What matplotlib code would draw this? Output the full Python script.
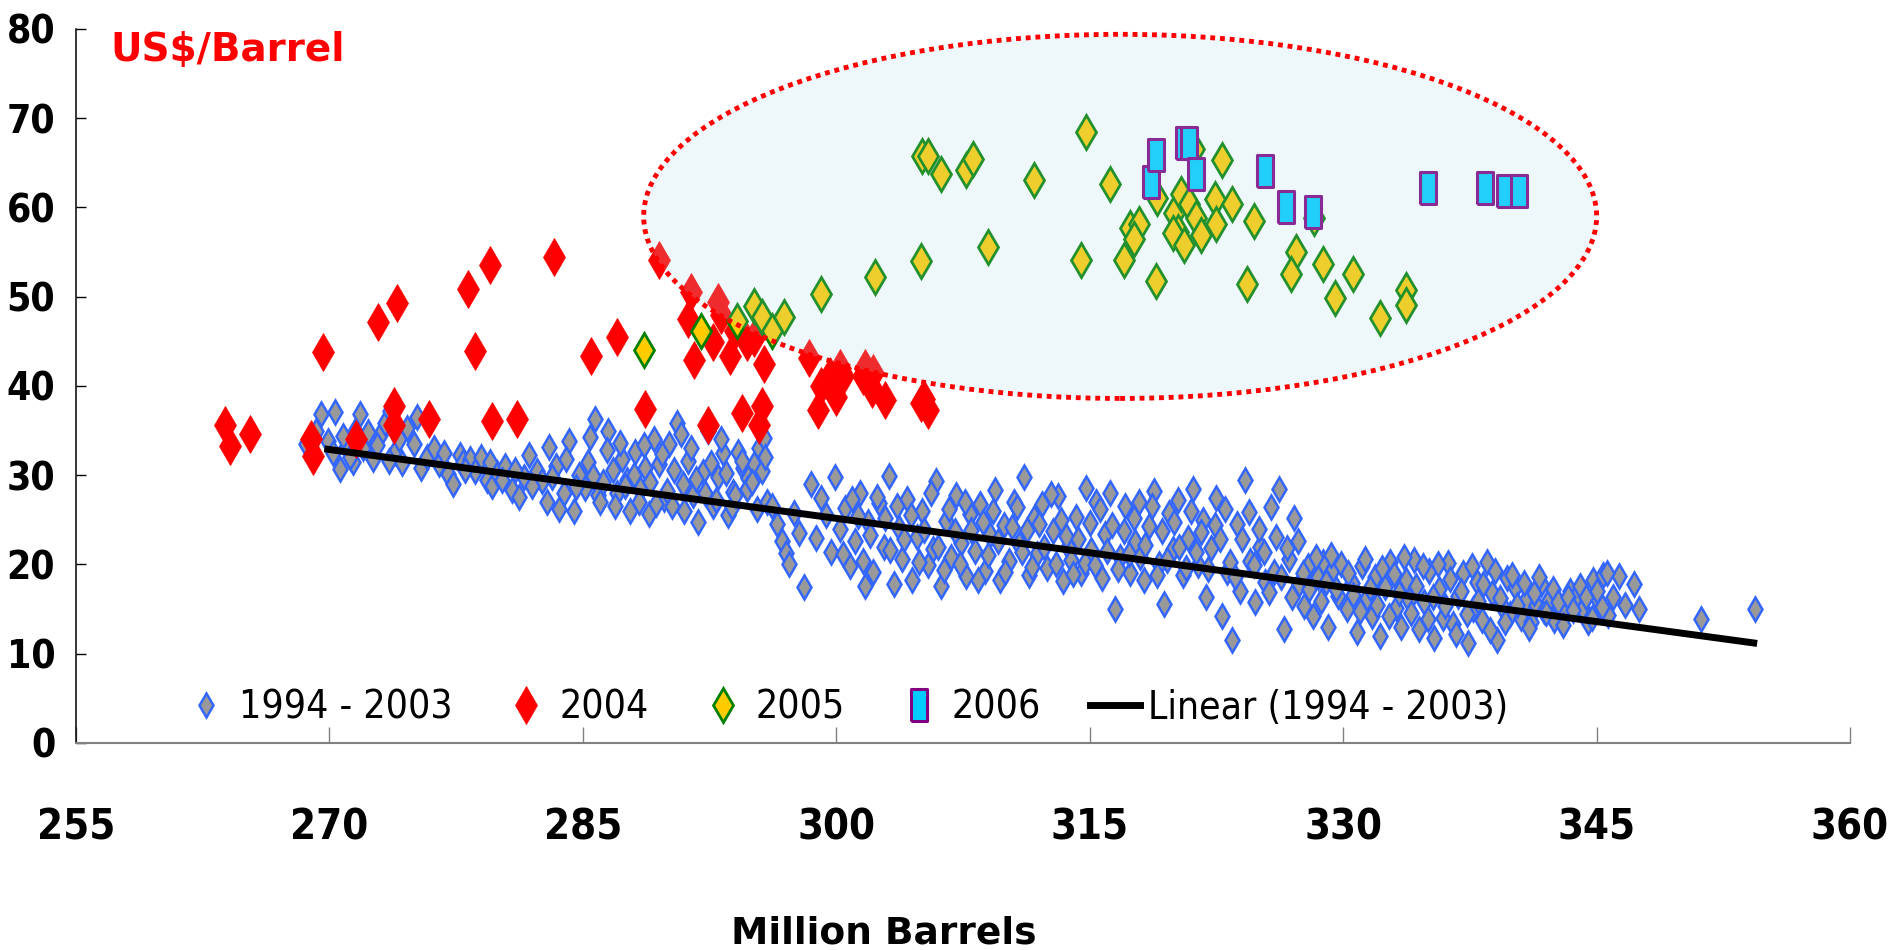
import matplotlib.pyplot as plt
from matplotlib.patches import Ellipse

# weekly stocks (million barrels) vs price (US$/barrel)
blue_points = [
    (268.6, 33.5), (269.5, 36.8), (269.9, 33.8), (270.3, 37.1), (270.6, 30.7), (270.2, 32.5),
    (271.0, 33.2), (271.4, 31.5), (271.8, 36.8), (271.5, 35.0), (272.0, 33.0),
    (272.6, 31.8), (273.0, 34.5), (273.3, 35.8), (273.6, 37.2), (273.9, 32.6), (274.1, 34.0), (273.5, 31.6),
    (274.6, 35.3), (275.0, 33.5), (275.4, 30.8), (275.8, 32.0),
    (276.5, 31.3), (277.0, 30.1), (277.3, 29.0), (277.7, 32.3), (277.9, 31.5),
    (278.3, 31.8), (278.6, 30.5), (279.0, 32.0), (279.3, 29.5), (279.6, 28.8), (279.9, 30.2),
    (280.4, 31.0), (280.8, 28.3), (281.2, 27.5), (281.5, 29.8), (281.8, 32.3),
    (282.3, 30.5), (282.6, 29.4), (283.0, 33.2), (283.4, 31.0), (283.6, 26.2), (283.9, 28.0),
    (284.2, 33.8), (284.5, 26.0), (284.8, 30.0), (285.1, 28.6), (285.4, 34.3), (285.7, 36.3), (285.9, 27.8),
    (286.2, 29.2), (286.5, 35.0), (286.8, 30.6), (287.0, 28.0), (287.3, 31.8), (287.6, 29.5), (287.8, 26.0),
    (288.1, 32.6), (288.4, 28.4), (288.7, 30.8), (288.9, 25.6), (289.2, 34.0), (289.5, 31.2), (289.8, 27.3),
    (290.1, 33.5), (290.3, 26.5), (290.6, 35.9), (290.9, 29.0), (291.2, 31.6), (291.5, 27.8), (291.8, 24.8),
    (292.1, 30.4), (292.4, 35.0), (292.7, 26.6), (293.0, 29.8), (293.3, 32.5), (293.6, 25.5), (293.9, 28.1),
    (294.2, 32.6), (294.5, 30.8), (294.8, 29.7), (295.1, 31.2), (295.4, 33.0), (295.7, 34.2), (295.9, 27.0),
    (296.2, 26.5), (296.5, 24.5), (296.8, 22.6), (297.0, 21.3), (297.2, 20.0), (297.5, 25.8), (297.8, 23.5), (298.1, 17.5),
    (298.5, 29.0), (298.8, 23.0), (299.1, 27.4), (299.4, 25.5), (299.7, 21.4), (299.9, 29.8),
    (300.2, 24.0), (300.5, 26.3), (300.8, 19.8), (301.1, 22.6), (301.4, 28.0), (301.7, 17.6), (301.9, 24.8),
    (302.2, 19.2), (302.5, 26.9), (302.8, 22.0), (303.1, 29.9), (303.4, 17.8), (303.7, 24.1), (303.9, 20.6),
    (304.2, 27.3), (304.5, 18.2), (304.8, 23.1), (305.1, 26.0), (305.4, 19.9), (305.7, 21.7), (305.9, 29.4),
    (306.2, 17.6), (306.5, 24.9), (306.8, 20.8), (307.1, 27.8), (307.4, 22.4), (307.7, 18.7), (307.9, 25.6),
    (308.2, 21.5), (308.5, 26.8), (308.8, 19.3), (309.1, 23.3), (309.4, 28.3), (309.7, 18.2), (309.9, 24.4),
    (310.2, 20.4), (310.5, 27.0), (310.8, 22.3), (311.1, 29.8), (311.4, 18.8), (311.7, 25.2), (311.9, 21.2),
    (312.2, 26.8), (312.5, 19.6), (312.8, 23.8), (313.1, 27.7), (313.4, 18.1), (313.7, 22.0), (313.9, 20.5),
    (314.2, 25.3), (314.5, 19.0), (314.8, 28.6), (315.1, 21.6), (315.4, 27.0), (315.7, 18.5), (315.9, 23.4),
    (316.2, 28.0), (316.5, 15.0), (316.8, 20.8), (317.1, 26.6), (317.4, 19.0), (317.7, 22.5), (317.9, 27.0),
    (318.2, 18.2), (318.5, 24.3), (318.8, 28.2), (319.1, 20.0), (319.4, 15.6), (319.7, 25.8), (319.9, 21.7),
    (320.2, 27.2), (320.5, 18.8), (320.8, 23.0), (321.1, 28.5), (321.4, 19.9), (321.7, 25.0), (321.9, 16.4),
    (322.2, 21.8), (322.5, 27.4), (322.8, 14.2), (323.1, 19.2), (323.4, 11.5), (323.7, 24.5), (323.9, 17.0),
    (324.2, 29.5), (324.5, 20.4), (324.8, 15.8), (325.1, 22.0), (325.4, 18.0), (325.7, 26.4), (325.9, 19.2),
    (326.2, 28.5), (326.5, 12.8), (326.8, 20.6), (327.1, 25.2), (327.4, 17.8), (327.7, 15.3), (327.9, 19.8),
    (328.2, 14.2), (328.5, 18.6), (328.8, 20.3), (329.1, 13.0), (329.4, 19.5), (329.7, 16.5), (329.9, 20.0),
    (330.2, 15.0), (330.5, 17.9), (330.8, 12.4), (331.1, 19.8), (331.4, 16.2), (331.7, 14.2), (331.9, 18.6),
    (332.2, 12.0), (332.5, 17.5), (332.8, 20.3), (333.1, 15.1), (333.4, 13.0), (333.7, 18.3), (333.9, 16.0),
    (334.2, 20.5), (334.5, 12.8), (334.8, 15.8), (335.1, 19.3), (335.4, 11.8), (335.7, 17.2), (335.9, 14.0),
    (336.2, 20.2), (336.5, 13.3), (336.8, 16.5), (337.1, 19.0), (337.4, 11.2), (337.7, 15.0), (337.9, 18.0),
    (338.2, 13.8), (338.5, 20.3), (338.8, 16.8), (339.1, 11.5), (339.4, 15.3), (339.7, 18.5), (339.9, 14.5),
    (340.2, 17.5), (340.5, 14.0), (340.8, 16.0), (341.1, 13.5), (341.4, 15.5), (341.7, 17.8), (341.9, 14.8),
    (342.2, 16.0), (342.5, 13.8), (342.8, 15.2), (343.1, 14.3), (343.4, 17.0), (343.7, 16.2),
    (344.2, 15.0), (344.5, 13.5), (344.8, 18.2), (345.1, 16.0), (345.4, 18.8), (345.7, 14.3),
    (346.3, 18.7), (346.7, 15.5), (347.2, 17.8), (347.5, 15.0),
    (351.2, 13.9), (354.4, 15.0),
    # denser parts of the cloud
    (269.2, 35.0), (270.8, 34.4), (271.2, 32.0), (272.3, 34.8), (272.8, 33.4), (274.3, 31.4),
    (275.2, 36.5), (276.2, 33.0), (276.8, 32.5), (278.0, 30.6), (279.5, 31.5), (280.2, 29.5),
    (281.0, 30.6), (282.0, 28.8), (282.9, 27.0), (283.2, 29.8), (284.0, 31.8), (284.6, 28.7),
    (285.3, 31.5), (285.6, 29.9), (286.0, 27.0), (286.4, 32.8), (286.9, 26.6), (287.2, 33.6),
    (287.5, 28.8), (288.0, 30.0), (288.3, 27.0), (288.6, 33.4), (289.0, 29.2), (289.3, 26.8),
    (289.7, 32.4), (290.0, 28.2), (290.4, 30.6), (290.8, 34.6), (291.0, 26.0), (291.4, 33.0),
    (291.7, 29.6), (292.2, 28.0), (292.6, 31.4), (292.9, 27.2), (293.2, 34.0), (293.5, 30.2),
    (293.8, 26.4), (294.0, 27.8), (294.4, 31.6), (294.7, 28.4), (295.0, 29.2), (295.3, 26.2),
    (295.6, 30.5), (295.8, 32.0),
    (300.4, 21.2), (300.9, 27.3), (301.3, 25.4), (301.6, 20.4), (302.0, 23.3), (302.4, 27.6),
    (302.9, 25.2), (303.2, 21.6), (303.6, 26.5), (304.0, 22.8), (304.4, 25.5), (304.9, 20.3),
    (305.2, 23.9), (305.6, 28.0), (306.0, 22.0), (306.4, 19.4), (306.7, 26.2), (307.0, 23.8),
    (307.3, 20.1), (307.6, 27.0), (308.0, 23.9), (308.4, 18.3), (308.7, 24.8), (309.0, 21.0),
    (309.3, 26.0), (309.6, 22.6), (310.0, 19.1), (310.4, 24.2), (310.7, 26.4), (311.0, 21.4),
    (311.3, 23.9), (311.6, 19.7), (312.0, 24.5), (312.3, 21.9), (312.7, 27.9), (313.0, 20.0),
    (313.3, 25.0), (313.6, 23.2), (314.0, 18.9), (314.3, 22.8), (314.7, 20.2), (315.0, 24.6),
    (315.3, 19.9), (315.6, 26.2), (316.0, 21.5), (316.3, 24.4), (316.7, 19.5), (317.0, 23.8),
    (317.3, 21.2), (317.6, 25.2), (318.0, 20.8), (318.3, 22.2), (318.7, 26.6), (319.0, 18.8),
    (319.3, 23.8), (319.6, 20.5), (320.0, 24.8), (320.3, 22.0), (320.7, 19.6), (321.0, 26.0),
    (321.3, 21.4), (321.6, 23.6), (322.0, 19.5), (322.4, 24.4), (322.7, 22.8), (323.0, 26.2),
    (323.3, 20.3), (323.6, 18.6), (324.0, 22.9), (324.4, 25.9), (324.7, 19.9), (325.0, 24.0),
    (325.3, 21.4), (325.6, 16.9), (326.0, 23.1), (326.3, 18.6), (326.7, 21.8), (327.0, 16.4),
    (327.3, 22.6), (327.6, 19.0), (328.0, 17.2), (328.4, 20.8), (328.7, 15.9), (329.0, 18.0),
    (329.3, 21.0), (329.6, 17.3),
    (330.3, 19.0), (330.6, 16.6), (331.0, 14.8), (331.3, 20.6), (331.6, 17.4), (332.0, 15.4),
    (332.3, 19.6), (332.7, 14.2), (333.0, 18.9), (333.3, 16.8), (333.6, 20.8), (334.0, 14.6),
    (334.3, 17.6), (334.7, 19.8), (335.0, 13.9), (335.3, 16.4), (335.6, 20.0), (336.0, 15.3),
    (336.3, 18.4), (336.7, 12.2), (337.0, 17.0), (337.3, 14.4), (337.6, 19.8), (338.0, 15.9),
    (338.3, 17.8), (338.7, 12.6), (339.0, 19.3), (339.3, 16.2), (339.6, 13.6), (340.0, 18.8),
    (340.3, 15.4), (340.7, 17.9), (341.0, 12.9), (341.3, 16.8), (341.6, 18.6), (342.0, 14.6),
    (342.4, 17.2), (342.7, 15.8), (343.0, 13.2), (343.3, 16.4), (343.6, 14.9), (344.0, 17.6),
    (344.4, 16.4), (344.7, 14.0), (345.0, 17.0), (345.3, 15.2), (345.6, 19.0), (346.0, 16.4),
]

red_points = [
    (263.8, 35.6), (264.1, 33.3), (265.3, 34.6), (268.9, 34.0), (269.0, 32.2), (269.6, 43.8),
    (271.6, 34.0), (272.9, 47.2), (274.0, 49.3), (273.8, 37.7), (273.8, 35.6), (275.9, 36.3),
    (278.2, 50.9), (278.6, 43.9), (279.5, 53.6), (279.6, 36.1), (281.1, 36.3), (283.3, 54.4),
    (285.5, 43.3), (287.0, 45.5), (288.7, 37.4), (289.5, 54.1), (291.4, 50.5), (291.2, 47.5),
    (291.6, 42.9), (292.4, 35.6), (293.0, 49.4), (292.7, 44.9), (293.7, 43.4), (294.7, 44.9),
    (293.2, 47.9), (294.0, 46.2), (294.4, 37.0), (295.1, 45.4), (295.4, 35.6), (295.6, 37.7),
    (295.7, 42.5), (298.4, 43.1), (298.9, 37.3), (299.1, 40.0), (299.6, 41.1), (300.0, 38.8),
    (300.2, 42.0), (300.4, 41.1), (301.6, 41.1), (301.7, 42.0), (302.2, 41.5), (302.1, 39.7),
    (302.9, 38.4), (305.0, 38.1), (305.4, 37.3), (305.2, 38.5),
]

yellow_points = [
    (288.6, 44.0), (292.0, 46.2), (294.1, 47.3), (295.1, 49.0), (295.6, 47.7), (296.2, 46.2),
    (296.9, 47.7), (299.1, 50.3), (302.3, 52.2), (305.0, 54.0), (305.1, 65.8), (305.4, 65.8),
    (306.2, 63.8), (307.7, 64.2), (308.1, 65.4), (309.0, 55.6), (311.7, 63.1), (314.8, 68.4),
    (314.5, 54.1), (316.2, 62.6), (317.0, 54.1), (317.4, 57.7), (317.9, 58.1), (317.6, 56.5),
    (318.9, 51.8), (319.0, 61.1), (320.0, 59.4), (320.2, 57.3), (319.9, 57.1), (320.6, 55.8),
    (320.4, 61.5), (320.9, 60.4), (321.3, 58.8), (321.6, 56.9), (322.4, 60.9), (322.5, 58.1),
    (322.8, 65.3), (321.2, 66.5), (323.4, 60.4), (324.7, 58.5), (324.3, 51.4), (327.2, 55.0),
    (326.9, 52.5), (328.8, 53.7), (329.5, 49.9), (330.6, 52.5), (332.2, 47.6), (333.7, 50.8),
    (333.7, 49.1), (328.3, 58.8),
]

cyan_points = [
    (318.6, 62.9), (318.9, 65.9), (320.6, 67.2), (320.9, 67.2), (321.3, 63.8), (325.4, 64.1),
    (326.6, 60.0), (328.2, 59.5), (335.0, 62.2), (338.4, 62.2), (339.6, 61.8), (340.4, 61.8),
]

trend_x = [269.9, 354.3]
trend_y = [32.9, 11.2]

x_ticks = [255, 270, 285, 300, 315, 330, 345, 360]
y_ticks = [0, 10, 20, 30, 40, 50, 60, 70, 80]

narrow = ['DejaVu Sans']

blue_x, blue_y = zip(*blue_points)
red_x, red_y = zip(*red_points)
yellow_x, yellow_y = zip(*yellow_points)
cyan_x, cyan_y = zip(*cyan_points)

rect = [(-0.5, -1), (0.5, -1), (0.5, 1), (-0.5, 1), (-0.5, -1)]

fig = plt.figure(figsize=(19, 9.5), dpi=100)
ax = fig.add_axes([0.04, 0.218, 0.9337, 0.7515])

ax.plot(blue_x, blue_y, ls='none', marker='d', ms=12, mfc='#999999', mec='#3366FF', mew=1.8,
        label='1994 - 2003', zorder=2)
ax.plot(red_x, red_y, ls='none', marker='d', ms=19, mfc='#FF0000', mec='#FF0000', mew=0.5,
        label='2004', zorder=3)
ax.plot(yellow_x, yellow_y, ls='none', marker='d', ms=17, mfc='#FFCC00', mec='#008000', mew=2,
        label='2005', zorder=4)
ax.plot(cyan_x, cyan_y, ls='none', marker=rect, ms=23, mfc='#00CCFF', mec='#800080', mew=2.2,
        label='2006', zorder=5)
ax.plot(trend_x, trend_y, color='black', lw=5, label='Linear (1994 - 2003)', zorder=3.5)

# highlighted region: translucent fill over the markers, dotted red rim
ax.add_patch(Ellipse((316.8, 59.0), 56.4, 40.8, facecolor=(173/255, 216/255, 230/255, 0.2),
                     edgecolor='none', zorder=6))
ax.add_patch(Ellipse((316.8, 59.0), 56.4, 40.8, facecolor='none', edgecolor='#FF0000',
                     lw=3.5, ls=(0, (1, 1)), zorder=7))

ax.set_xlim(255, 360)
ax.set_ylim(0, 80)
ax.set_xticks(x_ticks)
ax.set_yticks(y_ticks)
ax.set_xticklabels([str(v) for v in x_ticks], family=narrow, fontweight='bold', fontsize=30,
                   fontstretch='condensed')
ax.set_yticklabels([str(v) for v in y_ticks], family=narrow, fontweight='bold', fontsize=28,
                   fontstretch='condensed')

ax.spines['top'].set_visible(False)
ax.spines['right'].set_visible(False)
ax.spines['left'].set_color('black')
ax.spines['left'].set_linewidth(1.1)
ax.spines['bottom'].set_color('#808080')
ax.spines['bottom'].set_linewidth(1.5)
ax.tick_params(axis='x', direction='in', length=11.5, width=1, color='#808080', pad=46)
ax.tick_params(axis='y', direction='in', length=7, width=1, color='black', pad=15)

leg = ax.legend(loc='center left', bbox_to_anchor=(0.059, 0.049), ncol=5, frameon=False,
                borderpad=0, borderaxespad=0, handlelength=1.3, handletextpad=0.2,
                columnspacing=1.25,
                prop={'family': narrow, 'size': 28, 'stretch': 'condensed'})
leg.set_zorder(8)

ax.text(0.0579, 0.947, 'US$/Barrel', transform=fig.transFigure, color='#FF0000',
        fontsize=28, fontweight='bold', family='DejaVu Sans', ha='left', va='center')
fig.text(0.465, 0.017, 'Million Barrels', fontsize=27, fontweight='bold', family='DejaVu Sans',
         ha='center', va='center')

fig.savefig('out.png', dpi=100)
